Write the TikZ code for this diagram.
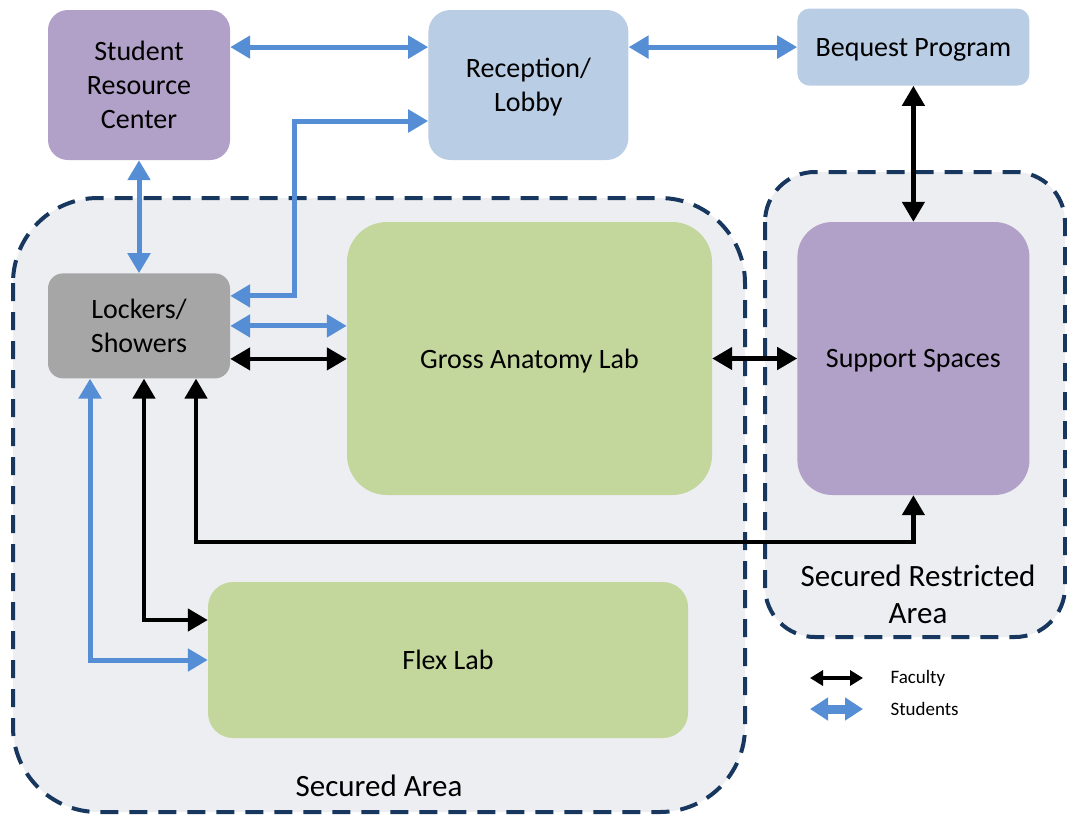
\documentclass[tikz,border=0pt]{standalone}
\usepackage{fontspec}
\setmainfont{Carlito}
\usetikzlibrary{positioning,arrows.meta}
\definecolor{roompurple}{RGB}{177,160,199}
\definecolor{roomblue}{RGB}{185,205,229}
\definecolor{roomgray}{RGB}{166,166,166}
\definecolor{roomgreen}{RGB}{195,214,155}
\definecolor{areafill}{RGB}{237,238,242}
\definecolor{arealine}{RGB}{23,55,94}
\definecolor{studblue}{RGB}{85,142,213}

\tikzset{
  room/.style={rounded corners=#1, inner sep=0pt, align=center, text depth=0pt,
    font=\fontsize{28}{34}\selectfont},
  room/.default=20pt,
  area/.style={draw=arealine, fill=areafill, line width=4pt,
    dash pattern=on 18pt off 11pt},
  arealabel/.style={align=center, font=\fontsize{31}{37}\selectfont},
  stud/.style={draw=studblue, line width=5pt, >={Triangle[length=20pt,width=22pt]}, <->},
  fac/.style={draw=black, line width=4.5pt, >={Triangle[length=20pt,width=22pt]}, <->},
}

\begin{document}
\begin{tikzpicture}[x=1pt, y=-1pt]
    \useasboundingbox (0,0) rectangle (1067,817);

    % secured zones
    \draw[area, rounded corners=85pt] (13,198) rectangle (745,812);
    \draw[area, rounded corners=50pt] (765,172) rectangle (1065,637);
    \node(secured) [arealabel] at (379,786) {Secured Area};
    \node(restricted) [arealabel] at (918,594) {Secured Restricted\\Area};

    % rooms
    \node(src) [room, fill=roompurple, minimum width=182pt, minimum height=150pt] at (139,85) {Student\\Resource\\Center};
    \node(lobby) [room=22pt, fill=roomblue, minimum width=200pt, minimum height=150pt, right=198pt of src] {Reception/\\Lobby};
    \node(lock) [room=15pt, fill=roomgray, minimum width=182pt, minimum height=105pt, below=113pt of src] {Lockers/\\Showers};
    \node(gross) [room=40pt, fill=roomgreen, minimum width=365pt, minimum height=273pt] at (529.5,358.5) {Gross Anatomy Lab};
    \node(supp) [room=35pt, fill=roompurple, minimum width=232pt, minimum height=273pt, right=85pt of gross] {Support Spaces};
    \node(bequest) [room=12pt, fill=roomblue, minimum width=232pt, minimum height=77pt, above=136pt of supp] {Bequest Program};
    \node(flex) [room=25pt, fill=roomgreen, minimum width=480pt, minimum height=156pt] at (448,660) {Flex Lab};

    % students
    \draw[stud] (src.east |- bequest.west) -- (lobby.west |- bequest.west);
    \draw[stud] (lobby.east |- bequest.west) -- (bequest.west);
    \draw[stud] (src.south) -- (lock.north);
    \draw[stud] ([yshift=30pt]lock.east) -- ++(64pt,0) |- ([yshift=-36pt]lobby.west);
    \draw[stud] (lock.east) -- (lock.east -| gross.west);
    \draw[stud] ([xshift=-49pt]lock.south) |- (flex.west);

    % faculty
    \draw[fac] ([yshift=-33pt]lock.east) -- ([yshift=-33pt]lock.east -| gross.west);
    \draw[fac] (gross.east) -- (supp.west);
    \draw[fac] (bequest.south) -- (supp.north);
    \draw[fac] ([xshift=5pt]lock.south) |- ([yshift=40pt]flex.west);
    \draw[fac] ([xshift=57pt]lock.south) |- ([yshift=-47pt]supp.south) -- (supp.south);

    % legend
    \coordinate(facA) at (810,678);
    \coordinate(facB) at (863,678);
    \coordinate(studA) at (810,709);
    \coordinate(studB) at (863,709);
    \node(faclbl) [anchor=west, font=\fontsize{19}{22}\selectfont] at (887,678) {Faculty};
    \node(studlbl) [anchor=west, font=\fontsize{19}{22}\selectfont] at (887,709) {Students};
    \draw[fac, line width=3.5pt, >={Triangle[length=13pt,width=15pt]}] (facA) -- (facB);
    \draw[stud, line width=9pt, >={Triangle[length=18pt,width=22pt]}] (studA) -- (studB);
\end{tikzpicture}
\end{document}
